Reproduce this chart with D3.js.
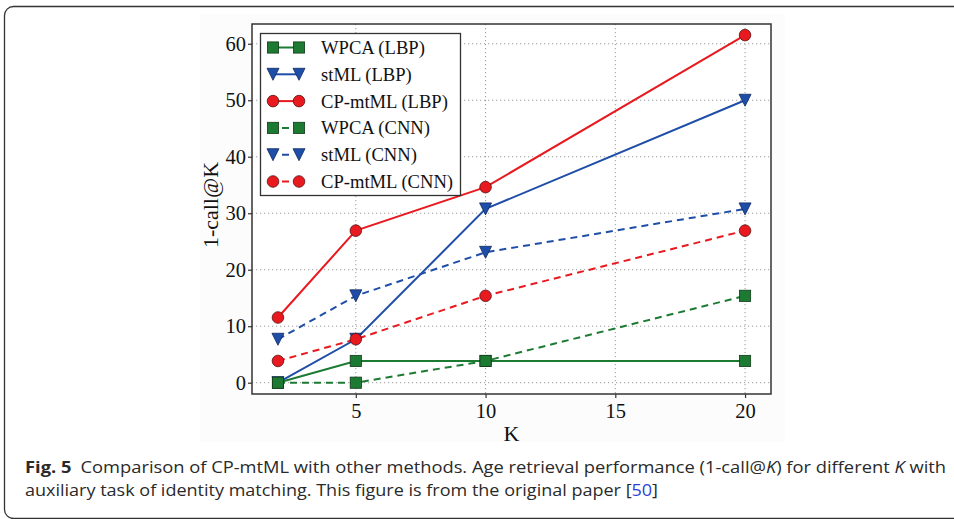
<!DOCTYPE html>
<html><head><meta charset="utf-8">
<script src="https://cdn.jsdelivr.net/npm/d3@7"></script>
<style>body{margin:0;background:#fff}svg{display:block}</style>
</head><body>
<svg id="c" width="954" height="519"></svg>
<script>
const K = [2, 5, 10, 20];
const wpcaLBP = [0, 3.85, 3.85, 3.85];
const stmlLBP = [0, 7.69, 30.77, 50.0];
const cpLBP = [11.54, 26.92, 34.62, 61.54];
const wpcaCNN = [0, 0, 3.85, 15.38];
const stmlCNN = [7.69, 15.38, 23.08, 30.77];
const cpCNN = [3.85, 7.69, 15.38, 26.92];
const seriesNames = ["WPCA (LBP)", "stML (LBP)", "CP-mtML (LBP)", "WPCA (CNN)", "stML (CNN)", "CP-mtML (CNN)"];
const xTicks = [5, 10, 15, 20];
const yTicks = [0, 10, 20, 30, 40, 50, 60];

const GREEN = "#1d7a32", BLUE = "#1f4ea8", RED = "#e8191f";
const series = [
  {name: seriesNames[0], vals: wpcaLBP, color: GREEN, marker: "square", dash: null},
  {name: seriesNames[1], vals: stmlLBP, color: BLUE, marker: "tri", dash: null},
  {name: seriesNames[2], vals: cpLBP, color: RED, marker: "circle", dash: null},
  {name: seriesNames[3], vals: wpcaCNN, color: GREEN, marker: "square", dash: "7,5"},
  {name: seriesNames[4], vals: stmlCNN, color: BLUE, marker: "tri", dash: "7,5"},
  {name: seriesNames[5], vals: cpCNN, color: RED, marker: "circle", dash: "7,5"}
];

const svg = d3.select("#c");
svg.append("rect").attr("x", 4.5).attr("y", 6.5).attr("width", 990).attr("height", 512)
  .attr("rx", 9).attr("fill", "none").attr("stroke", "#333").attr("stroke-width", 1.3);
svg.append("rect").attr("x", 200).attr("y", 14).attr("width", 585).attr("height", 428).attr("fill", "#fcfcfc");

const L = 252, R = 771, T = 24, B = 394;
const x = d3.scaleLinear().domain([1, 21]).range([L, R]);
const y = d3.scaleLinear().domain([-2, 63.5]).range([B, T]);
const serif = "'Liberation Serif','Times New Roman',serif";

svg.append("rect").attr("x", L).attr("y", T).attr("width", R - L).attr("height", B - T).attr("fill", "#fff");

const g = svg.append("g");
g.selectAll(".gx").data(xTicks).join("line")
  .attr("x1", d => x(d)).attr("x2", d => x(d)).attr("y1", T).attr("y2", B)
  .attr("stroke", "#9a9a9a").attr("stroke-width", 1).attr("stroke-dasharray", "1.2,2.8");
g.selectAll(".gy").data(yTicks).join("line")
  .attr("y1", d => y(d)).attr("y2", d => y(d)).attr("x1", L).attr("x2", R)
  .attr("stroke", "#9a9a9a").attr("stroke-width", 1).attr("stroke-dasharray", "1.2,2.8");

const xAxis = svg.append("g").attr("transform", `translate(0,${B})`)
  .call(d3.axisBottom(x).tickValues(xTicks).tickSize(4).tickPadding(5).tickFormat(d3.format("d")));
const yAxis = svg.append("g").attr("transform", `translate(${L},0)`)
  .call(d3.axisLeft(y).tickValues(yTicks).tickSize(4).tickPadding(2).tickFormat(d3.format("d")));
[xAxis, yAxis].forEach(a => {
  a.select(".domain").remove();
  a.selectAll("line").attr("stroke", "#333").attr("stroke-width", 1.2);
  a.selectAll("text").attr("font-family", serif).attr("font-size", 20.5).attr("fill", "#111");
});
svg.append("rect").attr("x", L).attr("y", T).attr("width", R - L).attr("height", B - T)
  .attr("fill", "none").attr("stroke", "#333").attr("stroke-width", 1.5);

svg.append("text").attr("x", (L + R) / 2).attr("y", 441).attr("text-anchor", "middle")
  .attr("font-family", serif).attr("font-size", 22).attr("fill", "#111").text("K");
svg.append("text").attr("transform", `translate(218,205) rotate(-90)`).attr("text-anchor", "middle")
  .attr("font-family", serif).attr("font-size", 22).attr("fill", "#111").text("1-call@K");

function drawMarker(sel, type, color, cx, cy) {
  if (type === "circle") {
    sel.append("circle").attr("cx", cx).attr("cy", cy).attr("r", 5.8)
      .attr("fill", color).attr("stroke", "#5a1010").attr("stroke-width", 0.8);
  } else if (type === "square") {
    sel.append("rect").attr("x", cx - 5.6).attr("y", cy - 5.6).attr("width", 11.2).attr("height", 11.2)
      .attr("fill", color).attr("stroke", "#103a18").attr("stroke-width", 0.8);
  } else {
    const s = 6;
    sel.append("path").attr("d", `M${cx - s},${cy - s}L${cx + s},${cy - s}L${cx},${cy + s}Z`)
      .attr("fill", color).attr("stroke", "#102a60").attr("stroke-width", 0.8);
  }
}

const line = d3.line().x(d => x(d[0])).y(d => y(d[1]));
const plot = svg.append("g");
series.forEach(s => {
  const pts = K.map((k, i) => [k, s.vals[i]]);
  plot.append("path").datum(pts).attr("d", line).attr("fill", "none")
    .attr("stroke", s.color).attr("stroke-width", 2)
    .attr("stroke-dasharray", s.dash);
});
series.forEach(s => {
  K.forEach((k, i) => drawMarker(plot, s.marker, s.color, x(k), y(s.vals[i])));
});

const lg = svg.append("g");
lg.append("rect").attr("x", 260.5).attr("y", 33.5).attr("width", 200).attr("height", 162)
  .attr("fill", "#fff").attr("stroke", "#333").attr("stroke-width", 1.3);
series.forEach((s, i) => {
  const cy = 47.5 + i * 26.8;
  lg.append("line").attr("x1", 273).attr("x2", 299).attr("y1", cy).attr("y2", cy)
    .attr("stroke", s.color).attr("stroke-width", 2)
    .attr("stroke-dasharray", s.dash ? "0,9,7,30" : null);
  drawMarker(lg, s.marker, s.color, 273, cy);
  drawMarker(lg, s.marker, s.color, 299, cy);
  lg.append("text").attr("x", 321).attr("y", cy).attr("dy", "0.35em")
    .attr("font-family", serif).attr("font-size", 18.6).attr("fill", "#111").text(s.name);
});

const sans = "'Open Sans','Noto Sans',sans-serif";
const c1 = svg.append("text").attr("x", 25).attr("y", 473).attr("font-family", sans)
  .attr("font-size", 16).attr("fill", "#2a2a2a");
c1.append("tspan").attr("font-weight", "bold").text("Fig. 5");
c1.append("tspan").text("\u2002Comparison of CP-mtML with other methods. Age retrieval performance (1-call@");
c1.append("tspan").attr("font-style", "italic").text("K");
c1.append("tspan").text(") for different ");
c1.append("tspan").attr("font-style", "italic").text("K");
c1.append("tspan").text(" with");
c1.attr("textLength", 921).attr("lengthAdjust", "spacingAndGlyphs");
const c2 = svg.append("text").attr("x", 25).attr("y", 496).attr("font-family", sans)
  .attr("font-size", 16).attr("fill", "#2a2a2a");
c2.append("tspan").text("auxiliary task of identity matching. This figure is from the original paper [");
c2.append("tspan").attr("fill", "#2b3fd6").text("50");
c2.append("tspan").text("]");
c2.attr("textLength", 633).attr("lengthAdjust", "spacingAndGlyphs");
</script>
</body></html>
